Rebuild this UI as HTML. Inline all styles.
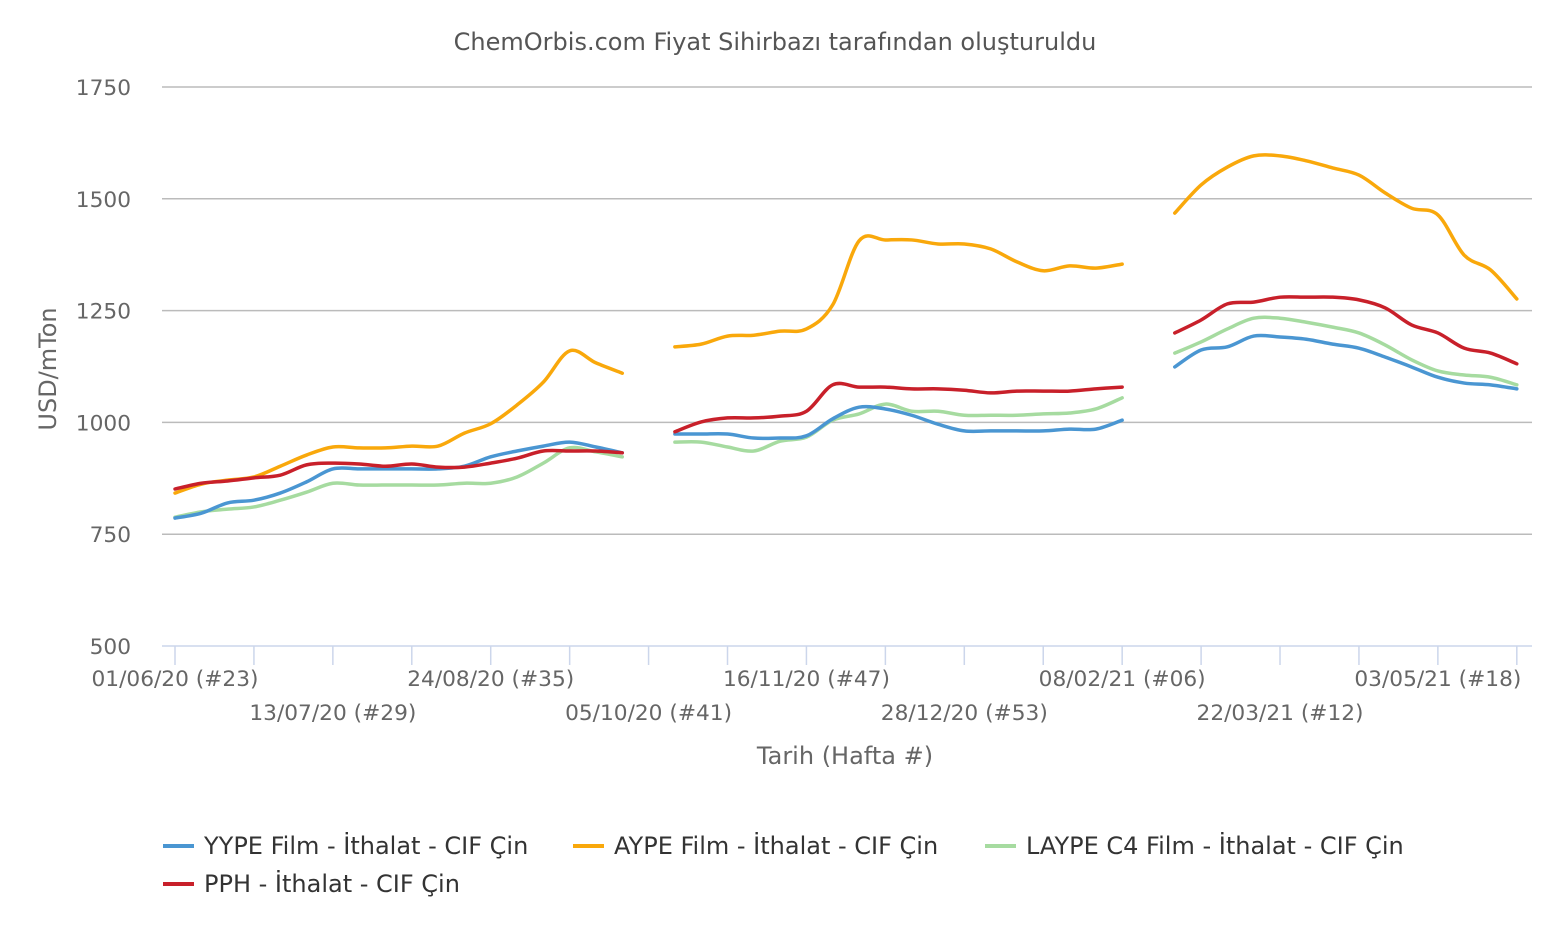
<!DOCTYPE html>
<html><head><meta charset="utf-8"><style>
body{margin:0;background:#fff;font-family:"Liberation Sans","DejaVu Sans",sans-serif;}
svg text{font-family:"DejaVu Sans","Liberation Sans",sans-serif;}
</style></head><body>
<svg id="chart" width="1552" height="930" xmlns="http://www.w3.org/2000/svg">
<text x="775" y="50" text-anchor="middle" font-size="24" fill="#555">ChemOrbis.com Fiyat Sihirbazı tarafından oluşturuldu</text>
<g id="grid"></g><g id="axes"></g><g id="series"></g>
<text transform="translate(56,369) rotate(-90)" text-anchor="middle" font-size="24" fill="#666">USD/mTon</text>
<text x="845" y="764" text-anchor="middle" font-size="24" fill="#666">Tarih (Hafta #)</text>
<g id="legend"></g>
</svg>
<script>
const weekLabels=["01/06/20 (#23)","13/07/20 (#29)","24/08/20 (#35)","05/10/20 (#41)","16/11/20 (#47)","28/12/20 (#53)","08/02/21 (#06)","22/03/21 (#12)","03/05/21 (#18)"];
const yTicks=[500,750,1000,1250,1500,1750];
const seriesNames=["YYPE Film - İthalat - CIF Çin","AYPE Film - İthalat - CIF Çin","LAYPE C4 Film - İthalat - CIF Çin","PPH - İthalat - CIF Çin"];
const seriesColors=["#4a96d2","#f9a80b","#a6dba0","#c8202a"];
const N=null;
const yype=[786,797,820,826,842,867,896,896,896,896,896,902,923,936,947,956,945,932,N,974,974,974,965,965,970,1008,1034,1030,1016,996,981,981,981,981,985,985,1005,N,1124,1162,1169,1193,1191,1186,1175,1166,1146,1124,1101,1088,1084,1075];
const aype=[842,862,871,878,902,927,945,943,943,947,947,976,997,1039,1090,1160,1133,1110,N,1169,1175,1193,1195,1204,1209,1263,1406,1408,1408,1399,1399,1388,1359,1339,1350,1345,1354,N,1468,1531,1571,1596,1596,1585,1569,1553,1513,1479,1464,1374,1341,1276];
const laype=[788,800,806,811,826,844,864,860,860,860,860,864,864,878,909,943,934,923,N,956,956,945,936,958,967,1005,1019,1041,1025,1025,1016,1016,1016,1019,1021,1030,1055,N,1155,1180,1209,1233,1233,1224,1213,1200,1173,1140,1115,1106,1101,1084];
const pph=[851,864,869,876,882,905,909,907,902,907,900,900,909,920,936,936,936,932,N,979,1001,1010,1010,1014,1025,1084,1079,1079,1075,1075,1072,1066,1070,1070,1070,1075,1079,N,1200,1229,1265,1269,1280,1280,1280,1274,1256,1218,1200,1166,1155,1131];
const NS="http://www.w3.org/2000/svg";
const X=w=>175+w*26.31, Y=v=>646-(v-500)*0.4472;
function mk(t,a,p){const e=document.createElementNS(NS,t);for(const k in a)e.setAttribute(k,a[k]);p.appendChild(e);return e;}
const grid=document.getElementById('grid'),axes=document.getElementById('axes');
yTicks.forEach(v=>{
 if(v>500){const l=mk('line',{x1:162,x2:1532,y1:Y(v),y2:Y(v),stroke:'#bbb','stroke-width':1.5},grid);
 
 }
 const t=mk('text',{x:131,y:Y(v)+8,'text-anchor':'end','font-size':21.7,fill:'#666'},axes);t.textContent=v;
 
 
});
const ax=mk('line',{x1:162,x2:1532,y1:646,y2:646,stroke:'#ccd6eb','stroke-width':1.5},axes);


for(let i=0;i<=17;i++){const l=mk('line',{x1:X(i*3),x2:X(i*3),y1:646,y2:665,stroke:'#ccd6eb','stroke-width':1.5},axes);
 
 }
weekLabels.forEach((s,i)=>{const t=mk('text',{x:X(i*6),y:i%2?720:686,'text-anchor':'middle','font-size':21.7,fill:'#666'},axes);t.textContent=s;
 
 });
function path(data){let d='',seg=[];const segs=[];data.forEach((v,i)=>{if(v===null){if(seg.length)segs.push(seg);seg=[];}else seg.push([X(i),Y(v)]);});if(seg.length)segs.push(seg);
 segs.forEach(p=>{d+='M'+p[0][0]+','+p[0][1];for(let i=0;i<p.length-1;i++){const p0=p[i-1]||p[i],p1=p[i],p2=p[i+1],p3=p[i+2]||p2,k=6;
 d+=`C${p1[0]+(p2[0]-p0[0])/k},${p1[1]+(p2[1]-p0[1])/k} ${p2[0]-(p3[0]-p1[0])/k},${p2[1]-(p3[1]-p1[1])/k} ${p2[0]},${p2[1]}`;}});return d;}
const sg=document.getElementById('series');
[[laype,2],[yype,0],[aype,1],[pph,3]].forEach(([d,i])=>{const p=mk('path',{d:path(d),fill:'none',stroke:seriesColors[i],'stroke-width':3.5,'stroke-linejoin':'round','stroke-linecap':'round'},sg);
 
 });
const lg=document.getElementById('legend');
const lp=[[163,846],[573,846],[985,846],[163,884]];
seriesNames.forEach((n,i)=>{const g=mk('g',{},lg);
 
 
 mk('line',{x1:lp[i][0],x2:lp[i][0]+31,y1:lp[i][1],y2:lp[i][1],stroke:seriesColors[i],'stroke-width':4},g);
 const t=mk('text',{x:lp[i][0]+41,y:lp[i][1]+8,'font-size':24,fill:'#333'},g);t.textContent=n;});
</script>
</body></html>
